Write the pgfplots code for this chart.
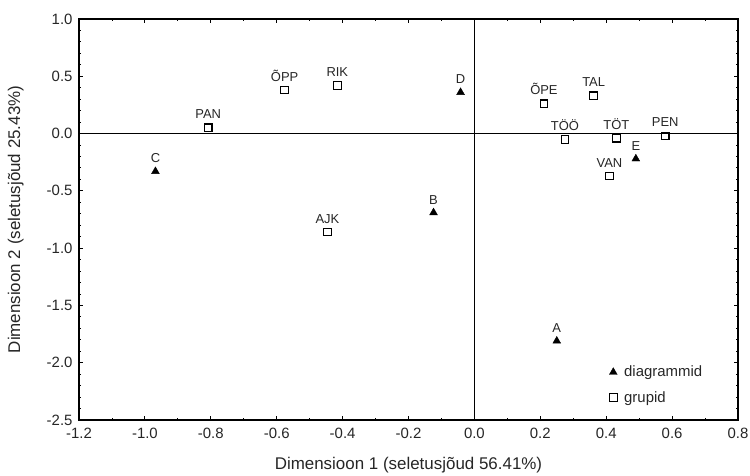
\documentclass[border=0pt]{standalone}
\usepackage{fontspec}
\setmainfont{Liberation Sans}
\usepackage{pgfplots}
\usepackage{pgfplotstable}
\pgfplotsset{compat=1.18}
\pgfplotstableread[col sep=comma]{
x,y,lab
-0.968,-0.33,C
-0.124,-0.69,B
-0.042,0.36,D
0.49,-0.22,E
0.25,-1.81,A
}\diag
\pgfplotstableread[col sep=comma]{
x,y,lab
-0.808,0.05,PAN
-0.576,0.38,ÕPP
-0.416,0.42,RIK
-0.446,-0.86,AJK
0.211,0.26,ÕPE
0.275,-0.05,TÖÖ
0.362,0.33,TAL
0.431,-0.04,TÖT
0.41,-0.37,VAN
0.579,-0.02,PEN
}\grup
\begin{document}
\begin{tikzpicture}
\begin{axis}[
  scale only axis,
  width=659bp, height=401bp,
  xmin=-1.2, xmax=0.8, ymin=-2.5, ymax=1.0,
  xtick distance=0.2, ytick distance=0.5,
  minor x tick num=1, minor y tick num=4,
  tick align=inside,
  major tick length=4bp, minor tick length=2.5bp,
  every tick/.style={black, line width=0.9pt},
  axis line style={line width=1.1pt},
  /pgf/number format/assume math mode=true,
  /pgf/number format/.cd, fixed, fixed zerofill, precision=1,
  /pgfplots/.cd,
  tick label style={font=\fontsize{15}{17}\selectfont, text=black!85},
  xticklabel style={yshift=-5bp},
  yticklabel style={xshift=-3bp},
  xlabel={Dimensioon 1 (seletusjõud 56.41\%)},
  ylabel={Dimensioon 2 (seletusjõud 25.43\%)},
  label style={font=\fontsize{17}{19}\selectfont, text=black!85},
  xlabel style={at={(axis description cs:0.5,-0.113)}, anchor=center},
  ylabel style={at={(axis description cs:-0.096,0.5)}, anchor=center},
  extra x ticks={0}, extra x tick labels={},
  extra y ticks={0}, extra y tick labels={},
  extra tick style={grid=major, major grid style={black, line width=1.1pt}, major tick length=0pt},
  legend style={draw=none, fill=none, at={(0.8,0.145)}, anchor=north west,
    font=\fontsize{15}{17}\selectfont, row sep=9bp, text=black!85},
  legend cell align=left,
  nodes near coords,
  point meta=explicit symbolic,
  every node near coord/.append style={font=\fontsize{13}{15}\selectfont, text=black!85, anchor=south, yshift=5bp},
]
\addplot[only marks, mark=triangle*, mark size=4.5bp, black] table[x=x, y=y, meta=lab] {\diag};
\addlegendentry{\hspace{5bp}diagrammid}
\addplot[only marks, mark=square, mark size=3.8bp, black, mark options={line width=1.1pt}] table[x=x, y=y, meta=lab] {\grup};
\addlegendentry{\hspace{5bp}grupid}
\end{axis}
\pgfresetboundingbox
\useasboundingbox ([xshift=-79bp,yshift=-56bp]current axis.south west) rectangle ([xshift=12bp,yshift=19bp]current axis.north east);
\end{tikzpicture}
\end{document}
